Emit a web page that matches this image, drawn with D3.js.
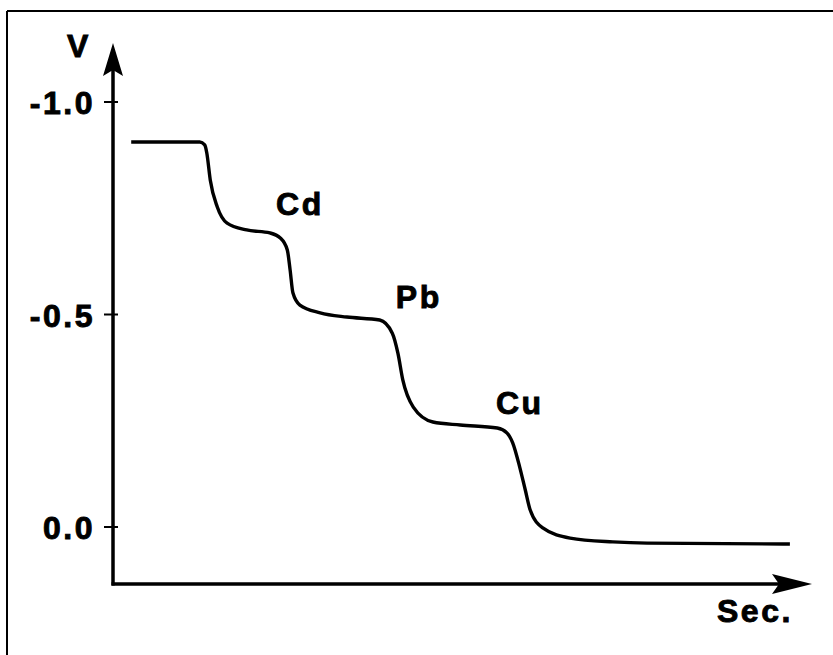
<!DOCTYPE html>
<html>
<head>
<meta charset="utf-8">
<script src="https://cdn.jsdelivr.net/npm/d3@7"></script>
<style>
	body { margin: 0; background: #fff; }
	svg { display: block; }
	.lbl { font-family: "Liberation Sans", Arial, sans-serif; font-weight: bold; font-size: 32px; letter-spacing: 2.5px; fill: #000; stroke: #000; stroke-width: 0.9; }
	.curve { fill: none; stroke: #000; stroke-width: 3.4; stroke-linejoin: round; }
	.axis-line { stroke: #000; stroke-width: 3.5; }
	.tick-mark { stroke: #000; stroke-width: 2; }
</style>
</head>
<body>
<div id="graphic"></div>
<script>
// Time (arbitrary units along the Sec. axis)
var TIME = [2.6, 12.4, 13.1, 13.4, 13.9, 14.9, 16.3, 19.1, 22.4, 23.9, 24.9, 25.3, 25.7, 26.7, 29.6, 33.4, 38.1, 39.9, 40.7, 41.4, 42.9, 45.7, 49.6, 54.9, 56.3, 57.1, 58.1, 58.9, 59.6, 61.4, 65.3, 71.4, 76.3, 96.7];
// Potential (V)
var VOLTS = [-0.906, -0.906, -0.899, -0.880, -0.816, -0.753, -0.715, -0.699, -0.692, -0.680, -0.652, -0.605, -0.551, -0.522, -0.504, -0.494, -0.487, -0.456, -0.409, -0.346, -0.282, -0.247, -0.240, -0.233, -0.221, -0.198, -0.141, -0.087, -0.040, 0.002, 0.026, 0.035, 0.038, 0.040];

var Y_TICKS = [-1.0, -0.5, 0.0];
var Y_TICK_LABELS = ['-1.0', '-0.5', '0.0'];

// Element labels at [time, volts]
var ELEMENTS = ['Cd', 'Pb', 'Cu'];
var ELEMENT_T = [23.3, 40.4, 54.7];
var ELEMENT_V = [-0.735, -0.515, -0.265];

var WIDTH = 833;
var HEIGHT = 655;

function render() {
	var svg = d3.select('#graphic').append('svg')
		.attr('width', WIDTH)
		.attr('height', HEIGHT);

	// Frame (top and left edges only, as scanned)
	svg.append('line').attr('x1', 7).attr('y1', 11).attr('x2', WIDTH).attr('y2', 11)
		.attr('stroke', '#000').attr('stroke-width', 2);
	svg.append('line').attr('x1', 7).attr('y1', 11).attr('x2', 7).attr('y2', HEIGHT)
		.attr('stroke', '#000').attr('stroke-width', 2);

	var xScale = d3.scaleLinear().domain([0, 100]).range([113, 813]);
	var yScale = d3.scaleLinear().domain([0, -1]).range([527, 102]);

	var x0 = xScale(0);
	var yBase = 584;

	// Axes
	svg.append('line').attr('class', 'axis-line')
		.attr('x1', x0).attr('y1', yBase + 1.5).attr('x2', x0).attr('y2', 70);
	svg.append('line').attr('class', 'axis-line')
		.attr('x1', x0 - 1.5).attr('y1', yBase).attr('x2', 780).attr('y2', yBase);

	// Arrowheads
	svg.append('path')
		.attr('d', 'M' + x0 + ',43 L' + (x0 + 10) + ',76 L' + x0 + ',70 L' + (x0 - 10) + ',76 Z')
		.attr('fill', '#000');
	svg.append('path')
		.attr('d', 'M812,' + yBase + ' L772,' + (yBase - 10) + ' L779,' + yBase + ' L772,' + (yBase + 10) + ' Z')
		.attr('fill', '#000');

	// Y ticks
	var ticks = svg.append('g');
	ticks.selectAll('line')
		.data(Y_TICKS)
		.enter().append('line')
		.attr('class', 'tick-mark')
		.attr('x1', x0 - 9).attr('x2', x0 + 5)
		.attr('y1', function(d) { return yScale(d); })
		.attr('y2', function(d) { return yScale(d); });

	ticks.selectAll('text')
		.data(Y_TICKS)
		.enter().append('text')
		.attr('class', 'lbl')
		.attr('x', x0 - 18)
		.attr('y', function(d) { return yScale(d) + 12; })
		.attr('text-anchor', 'end')
		.text(function(d, i) { return Y_TICK_LABELS[i]; });

	// Axis titles
	svg.append('text').attr('class', 'lbl')
		.attr('x', 79).attr('y', 57)
		.attr('text-anchor', 'middle')
		.text('V');
	svg.append('text').attr('class', 'lbl')
		.attr('x', 717).attr('y', 622)
		.text('Sec.');

	// Curve
	var data = TIME.map(function(t, i) { return [t, VOLTS[i]]; });
	var line = d3.line()
		.curve(d3.curveMonotoneX)
		.x(function(d) { return xScale(d[0]); })
		.y(function(d) { return yScale(d[1]); });

	svg.append('path')
		.datum(data)
		.attr('class', 'curve')
		.attr('d', line);

	// Element labels
	svg.append('g').selectAll('text')
		.data(ELEMENTS)
		.enter().append('text')
		.attr('class', 'lbl')
		.attr('x', function(d, i) { return xScale(ELEMENT_T[i]); })
		.attr('y', function(d, i) { return yScale(ELEMENT_V[i]); })
		.text(function(d) { return d; });
}

document.addEventListener('DOMContentLoaded', render);
</script>
</body>
</html>
